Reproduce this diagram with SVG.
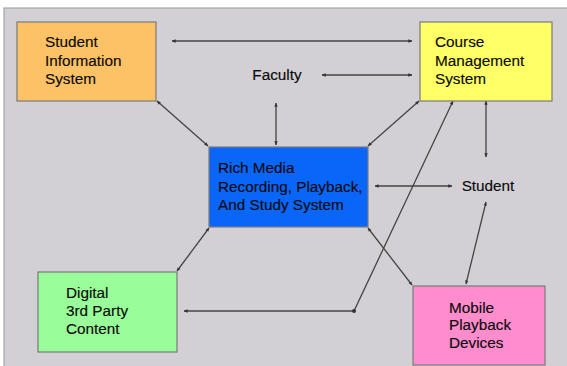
<svg xmlns="http://www.w3.org/2000/svg" width="567" height="366" viewBox="0 0 567 366">
<defs>
<marker id="ah" viewBox="0 0 6 6" refX="5.5" refY="3" markerWidth="4" markerHeight="4" orient="auto-start-reverse" markerUnits="userSpaceOnUse">
<path d="M0,0.5 L6,3 L0,5.5 Z" fill="#333"/>
</marker>
<marker id="dot" viewBox="0 0 6 6" refX="3" refY="3" markerWidth="4" markerHeight="4" markerUnits="userSpaceOnUse">
<circle cx="3" cy="3" r="3" fill="#333"/>
</marker>
</defs>
<style>
.box{stroke:#7a7a7a;stroke-width:1.2}
.t{font-family:"Liberation Sans",Arial,sans-serif;font-size:15.3px;fill:#0a0a0a;stroke:#0a0a0a;stroke-width:0.15}
.c{fill:none;stroke:#454545;stroke-width:1.3;marker-start:url(#ah);marker-end:url(#ah)}
</style>
<rect x="0" y="0" width="567" height="366" fill="#ffffff"/>
<rect x="4" y="8" width="570" height="370" fill="#d2d0d4" stroke="#a6a4a8" stroke-width="1.2"/>
<g id="connectors">
<line class="c" x1="172" y1="41" x2="412" y2="41"/>
<line class="c" x1="322" y1="75" x2="412" y2="75"/>
<line class="c" x1="276" y1="103" x2="276" y2="145"/>
<line class="c" x1="157" y1="101" x2="208" y2="146"/>
<line class="c" x1="419" y1="101" x2="368" y2="146"/>
<polyline class="c" points="453,101 354,311 184,311" style="marker-mid:url(#dot)"/>
<line class="c" x1="486" y1="101" x2="486" y2="157"/>
<line class="c" x1="375" y1="186" x2="452" y2="186"/>
<line class="c" x1="486" y1="202" x2="466" y2="284"/>
<line class="c" x1="368" y1="228" x2="412" y2="285"/>
<line class="c" x1="209" y1="228" x2="177" y2="271"/>
</g>
<g id="sis">
<rect class="box" x="17" y="22" width="139" height="79" fill="#fdc265"/>
<text class="t" x="45" y="47">Student</text>
<text class="t" x="45" y="65.5">Information</text>
<text class="t" x="45" y="84">System</text>
</g>
<g id="cms">
<rect class="box" x="420" y="22" width="132" height="79" fill="#ffff66"/>
<text class="t" x="435" y="47">Course</text>
<text class="t" x="435" y="65.5">Management</text>
<text class="t" x="435" y="84">System</text>
</g>
<g id="faculty">
<text class="t" x="277" y="80" text-anchor="middle">Faculty</text>
</g>
<g id="richmedia">
<rect class="box" x="209" y="147" width="159" height="80" fill="#0a66f8"/>
<text class="t" x="218" y="173">Rich Media</text>
<text class="t" x="218" y="191.5">Recording, Playback,</text>
<text class="t" x="218" y="209.5">And Study System</text>
</g>
<g id="student">
<text class="t" x="488" y="191" text-anchor="middle">Student</text>
</g>
<g id="digital">
<rect class="box" x="38" y="272" width="139" height="80" fill="#99fd99"/>
<text class="t" x="66" y="297.5">Digital</text>
<text class="t" x="66" y="315.5">3rd Party</text>
<text class="t" x="66" y="334">Content</text>
</g>
<g id="mobile">
<rect class="box" x="413" y="286" width="132" height="79" fill="#ff8ccd"/>
<text class="t" x="449" y="312.5">Mobile</text>
<text class="t" x="449" y="330">Playback</text>
<text class="t" x="449" y="347.5">Devices</text>
</g>
</svg>
